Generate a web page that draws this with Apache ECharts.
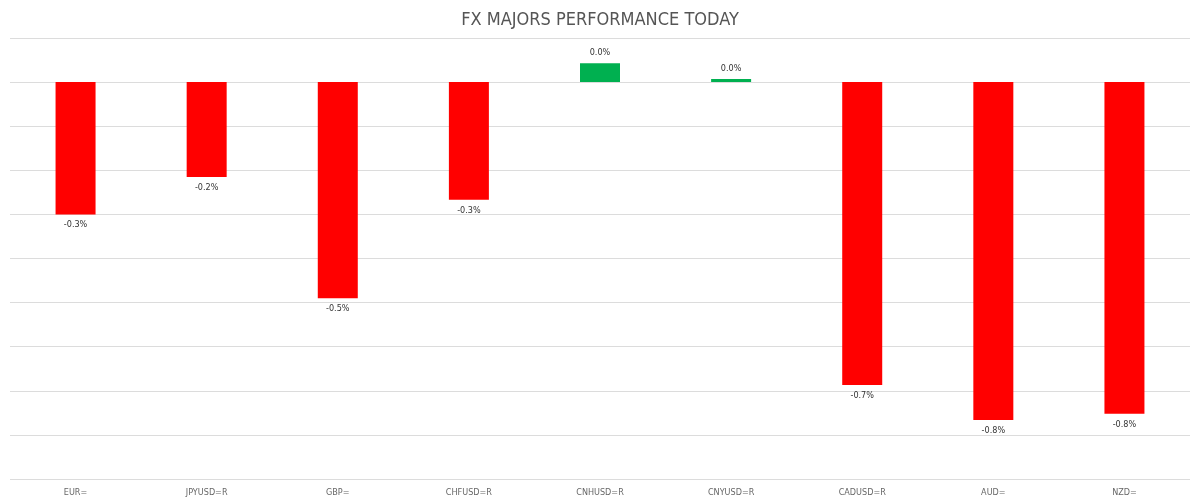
<!DOCTYPE html>
<html>
<head>
<meta charset="utf-8">
<style>
  html, body { margin: 0; padding: 0; background: #fff; }
  #chart { width: 1200px; height: 503px; }
</style>
<script src="https://cdn.jsdelivr.net/npm/echarts@6/dist/echarts.min.js"></script>
</head>
<body>
<div id="chart"></div>
<script>
var categories = ['EUR=', 'JPYUSD=R', 'GBP=', 'CHFUSD=R', 'CNHUSD=R', 'CNYUSD=R', 'CADUSD=R', 'AUD=', 'NZD='];
var changes = [-0.30, -0.215, -0.49, -0.267, 0.043, 0.007, -0.687, -0.766, -0.752];

var upColor = '#00b050';
var downColor = '#ff0000';

var myChart = echarts.init(document.getElementById('chart'));

var barData = changes.map(function (v) {
  return {
    value: v,
    itemStyle: { color: v >= 0 ? upColor : downColor },
    label: { position: v >= 0 ? 'top' : 'bottom' }
  };
});

option = {
  animation: false,
  title: {
    text: 'FX MAJORS PERFORMANCE TODAY',
    left: 'center',
    top: 6,
    textStyle: {
      fontFamily: 'DejaVu Sans Condensed',
      fontWeight: 'normal',
      fontSize: 18,
      color: '#555'
    }
  },
  grid: {
    left: 10,
    right: 10,
    top: 38,
    bottom: 24
  },
  xAxis: {
    type: 'category',
    data: categories,
    axisLine: { show: false },
    axisTick: { show: false },
    axisLabel: {
      margin: 9,
      fontFamily: 'DejaVu Sans Condensed',
      fontSize: 9,
      color: '#666'
    }
  },
  yAxis: {
    type: 'value',
    min: -0.9,
    max: 0.1,
    interval: 0.1,
    axisLabel: { show: false },
    axisLine: { show: false },
    axisTick: { show: false },
    splitLine: { lineStyle: { color: '#dcdcdc', width: 1 } }
  },
  series: [
    {
      type: 'bar',
      barWidth: 40,
      data: barData,
      label: {
        show: true,
        distance: 6,
        fontFamily: 'DejaVu Sans Condensed',
        fontSize: 9,
        color: '#333',
        formatter: function (p) {
          return p.value.toFixed(1) + '%';
        }
      }
    }
  ]
};
myChart.setOption(option);

window.addEventListener('resize', function () {
  myChart.resize();
});
</script>
</body>
</html>
